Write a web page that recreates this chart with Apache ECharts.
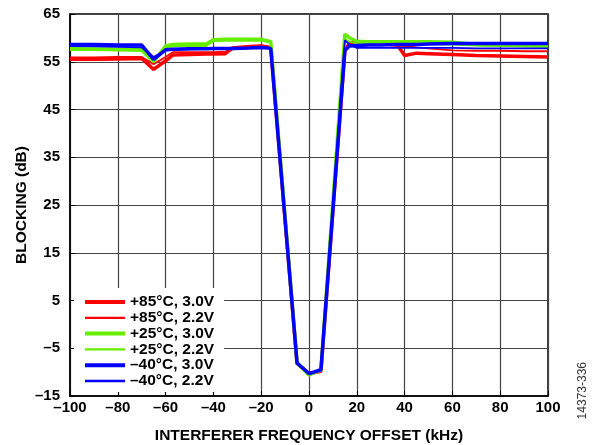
<!DOCTYPE html>
<html><head><meta charset="utf-8">
<script src="https://cdn.jsdelivr.net/npm/echarts@6/dist/echarts.min.js"></script>
<style>html,body{margin:0;padding:0;background:#fff}#c{width:592px;height:445px}</style>
</head><body><div id="c"></div>
<script>
// Interferer frequency offset (kHz)
const freq = [-100,-90,-80,-70,-65,-60,-57,-50,-43,-40,-35,-32,-25,-20,-16,-5,0,5,15,17,20,25,30,37,40,45,50,60,70,80,90,100];
// Blocking (dB)
const r85_30 = [55.5,55.5,55.6,55.7,53.4,55.2,56.4,56.5,56.6,56.6,56.7,57.9,58.2,58.3,58.0,-8.2,-10.3,-9.8,57.3,59.0,59.0,58.9,58.8,58.5,56.3,56.8,56.7,56.5,56.3,56.2,56.1,56.0];
const r85_22 = [55.9,55.9,56.0,56.0,54.5,56.0,57.0,57.0,57.0,57.0,57.1,57.6,58.0,58.2,58.0,-8.3,-10.4,-9.9,57.5,59.2,58.9,58.8,58.6,58.4,58.3,58.0,57.8,57.4,57.3,57.3,57.2,57.2];
const g25_30 = [57.6,57.6,57.5,57.4,55.0,58.3,58.6,58.7,58.7,59.6,59.7,59.7,59.7,59.7,59.2,-8.0,-10.6,-9.6,60.8,60.0,59.3,59.2,59.2,59.2,59.2,59.2,59.2,59.1,58.6,58.5,58.4,58.3];
const g25_22 = [57.9,57.8,57.8,57.7,55.5,57.8,58.2,58.3,58.3,59.3,59.4,59.4,59.4,59.4,59.0,-8.1,-10.5,-9.6,59.8,59.2,58.8,58.7,58.7,58.7,58.7,58.7,58.7,58.6,58.4,58.3,58.2,58.1];
const b40_30 = [58.6,58.6,58.5,58.5,55.5,57.5,57.6,57.7,57.7,57.8,57.8,57.8,57.9,58.0,57.8,-8.1,-10.3,-9.5,57.4,58.3,58.4,58.5,58.5,58.6,58.6,58.6,58.7,58.8,58.8,58.8,58.8,58.8];
const b40_22 = [58.3,58.2,58.1,58.0,56.0,57.4,57.5,57.6,57.7,57.7,57.8,57.8,57.9,58.0,57.9,-8.2,-10.4,-9.6,59.5,58.6,57.9,57.9,57.9,57.9,57.9,57.9,57.9,57.9,57.8,57.8,57.8,57.8];
const seriesNames = ['+85°C, 3.0V','+85°C, 2.2V','+25°C, 3.0V','+25°C, 2.2V','–40°C, 3.0V','–40°C, 2.2V'];
const seriesValues = [r85_30, r85_22, g25_30, g25_22, b40_30, b40_22];
const seriesColors = ['#ff0000','#ff0000','#66ee00','#66ee00','#0000ff','#0000ff'];
const seriesWidths = [3.5,1.8,3.5,1.8,3.5,1.8];
const xTicks = {min:-100, max:100, step:20};
const yTicks = {min:-15, max:65, step:10};
const xTitle = 'INTERFERER FREQUENCY OFFSET (kHz)';
const yTitle = 'BLOCKING (dB)';
const figId = '14373-336';

const font = "'Liberation Sans', Arial, Helvetica, sans-serif";
const fmt = v => String(v).replace('-', '–');
// legend icon: a horizontal stripe inside a 40x14 box (tiny corner specks fix the box)
const stripeIcon = w => {
  const a = 7 - w/2, b = 7 + w/2;
  return 'path://M0,0h0.01v0.01h-0.01Z M0,' + a + 'H40V' + b + 'H0Z M39.99,13.99h0.01v0.01h-0.01Z';
};
const chart = echarts.init(document.getElementById('c'), null, {renderer:'canvas'});
chart.setOption({
  animation:false,
  backgroundColor:'#fff',
  grid:{left:70, right:44, top:14, bottom:49, containLabel:false, outerBoundsMode:'none',
    show:true, borderColor:'#000', borderWidth:1.5, backgroundColor:'transparent'},
  xAxis:{type:'value', min:xTicks.min, max:xTicks.max, interval:xTicks.step,
    name:xTitle, nameLocation:'middle', nameGap:32,
    nameTextStyle:{fontFamily:font, fontWeight:'bold', fontSize:15.5, color:'#000'},
    axisLine:{show:true, onZero:false, lineStyle:{color:'#000', width:1.5}},
    axisTick:{show:true, inside:true, length:5, lineStyle:{color:'#000'}},
    axisLabel:{formatter:fmt, fontFamily:font, fontWeight:'bold', fontSize:15, color:'#000', margin:4},
    splitLine:{show:true, lineStyle:{color:'#444', width:1.2}}},
  yAxis:{type:'value', min:yTicks.min, max:yTicks.max, interval:yTicks.step,
    name:yTitle, nameLocation:'middle', nameGap:40, nameRotate:90, nameMoveOverlap:false,
    nameTextStyle:{fontFamily:font, fontWeight:'bold', fontSize:15.5, color:'#000'},
    axisLine:{show:true, onZero:false, lineStyle:{color:'#000', width:1.5}},
    axisTick:{show:true, inside:true, length:5, lineStyle:{color:'#000'}},
    axisLabel:{formatter:fmt, fontFamily:font, fontWeight:'bold', fontSize:15, color:'#000', margin:10},
    splitLine:{show:true, lineStyle:{color:'#444', width:1.2}}},
  legend:{show:true, orient:'vertical', left:74, top:288, backgroundColor:'#fff', padding:[6,10,3,11],
    itemWidth:40, itemHeight:14, itemGap:-0.2, z:10,
    textStyle:{fontFamily:font, fontWeight:'bold', fontSize:15.5, color:'#000'},
    data:seriesNames.map((n,i)=>({name:n, icon:stripeIcon(seriesWidths[i]+0.5)}))},
  graphic:[{type:'text', left:577, top:362, rotation:Math.PI/2,
    style:{text:figId, fontFamily:font, fontSize:12, fill:'#333'}}],
  series:seriesNames.map((n,i)=>({
    name:n, type:'line', symbol:'none', z:2+i,
    data:freq.map((f,j)=>[f, seriesValues[i][j]]),
    lineStyle:{color:seriesColors[i], width:seriesWidths[i]},
    itemStyle:{color:seriesColors[i]}
  }))
});
</script></body></html>
